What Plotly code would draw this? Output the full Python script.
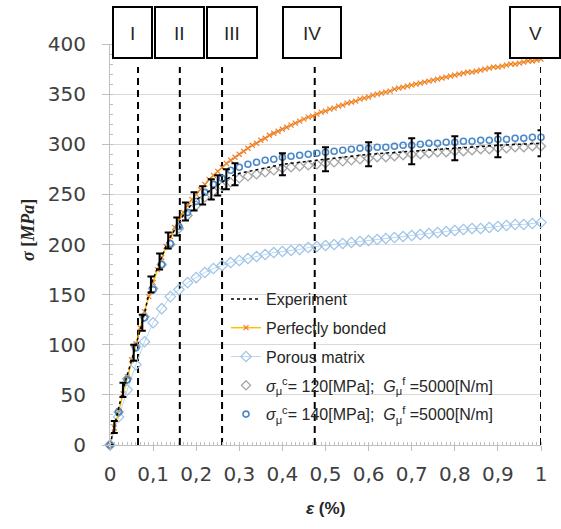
import plotly.graph_objects as go

# ---- data -------------------------------------------------------------
# Experimental mean curve with scatter
exp_strain = [0, 0.01, 0.03, 0.055, 0.075, 0.095, 0.115, 0.135, 0.155, 0.175, 0.195,
              0.215, 0.235, 0.25, 0.27, 0.29, 0.4, 0.5, 0.6, 0.7, 0.8, 0.9, 1.0]
exp_stress = [0, 18, 55, 92, 122, 160, 183, 204, 218, 233, 243,
              249, 255, 259, 265, 270, 280, 285, 290, 293, 296, 299, 301]
exp_err = [0, 6, 7, 8, 8, 8, 8, 8, 9, 9, 9,
           9, 10, 10, 10, 11, 11, 12, 12, 13, 12, 12, 13]

# Perfectly bonded model (0.01 strain step)
pb_strain = [i / 100 for i in range(101)]
pb_stress = [0, 17, 34, 51, 68, 85, 101, 117, 133, 148,
             162, 175, 187, 198, 208, 217, 225, 232, 239, 245,
             250, 255, 260, 265, 269, 273, 277, 281, 284, 287,
             290, 293, 296, 299, 301, 304, 306, 309, 311, 313,
             315, 317, 319, 321, 323, 325, 327, 328, 330, 332,
             333, 335, 336, 338, 339, 341, 342, 343, 345, 346,
             347, 349, 350, 351, 352, 353, 355, 356, 357, 358,
             359, 360, 361, 362, 363, 364, 365, 366, 367, 368,
             369, 370, 371, 372, 372, 373, 374, 375, 376, 377,
             377, 378, 379, 380, 380, 381, 382, 383, 383, 384,
             385]

# Models sampled at 0.02 strain step
model_strain = [i / 50 for i in range(51)]
porous_stress = [0, 28, 55, 80, 103, 122, 136, 148, 155, 162,
                 167, 172, 176, 179, 182, 184, 186, 188, 190, 192,
                 193, 194, 195, 197, 198, 199, 200, 201, 202, 203,
                 204, 205, 206, 207, 208, 209, 210, 211, 212, 213,
                 214, 215, 216, 216, 217, 218, 219, 220, 220, 221,
                 222]
s120_stress = [0, 33, 66, 98, 128, 156, 180, 200, 216, 229,
               239, 247, 253, 258, 262, 266, 268, 270, 272, 274,
               276, 277, 278, 279, 280, 281, 282, 283, 284, 285,
               286, 287, 287, 288, 289, 290, 290, 291, 292, 292,
               293, 293, 294, 295, 295, 296, 296, 297, 297, 298,
               298]
s140_stress = [0, 33, 65, 97, 127, 155, 180, 201, 218, 232,
               243, 252, 260, 266, 274, 277, 280, 282, 284, 285,
               287, 288, 289, 290, 291, 292, 293, 294, 295, 296,
               296, 297, 297, 298, 299, 299, 300, 301, 301, 302,
               302, 303, 303, 304, 304, 305, 305, 306, 306, 307,
               307]

# Stage boundaries (strain) and stage names
stage_strain = [0.065, 0.162, 0.26, 0.475, 1.0]
stage_top = 377
stage_names = ["I", "II", "III", "IV", "V"]
# Stage label boxes: left/right in pixels
stage_box_px = [(113, 152), (155, 204), (207, 257), (283, 341), (510, 560)]

# ---- figure -----------------------------------------------------------
W, H = 561, 529
ML, MR, MT, MB = 110, 20, 44, 84
PW, PH = W - ML - MR, H - MT - MB

fig = go.Figure()

# stage boundary lines
for i, xs in enumerate(stage_strain):
    fig.add_trace(go.Scatter(
        x=[xs, xs], y=[0, stage_top], mode="lines",
        line=dict(color="black", width=2, dash="7px,5px"),
        showlegend=False, hoverinfo="skip", cliponaxis=False))

fig.add_trace(go.Scatter(
    x=pb_strain, y=pb_stress, mode="lines+markers", name="Perfectly bonded",
    line=dict(color="#FFC000", width=1.5),
    marker=dict(symbol="x-thin-open", size=5, color="#ED7D31",
                line=dict(color="#ED7D31", width=1.2)),
    legendgroup="b", legendrank=2, cliponaxis=False))

fig.add_trace(go.Scatter(
    x=model_strain, y=porous_stress, mode="lines+markers", name="Porous matrix",
    line=dict(color="#BDD7EE", width=1),
    marker=dict(symbol="diamond-open", size=8, color="#9DC3E6",
                line=dict(color="#9DC3E6", width=1.2)),
    legendgroup="c", legendrank=3, cliponaxis=False))

fig.add_trace(go.Scatter(
    x=model_strain, y=s120_stress, mode="markers",
    name="<i>σ</i><sub>μ</sub><sup>c</sup>= 120[MPa];  <i>G</i><sub>μ</sub><sup>f</sup> =5000[N/m]",
    marker=dict(symbol="diamond-open", size=7, color="#A6A6A6",
                line=dict(color="#A6A6A6", width=1.3)),
    legendgroup="d", legendrank=4, cliponaxis=False))

fig.add_trace(go.Scatter(
    x=model_strain, y=s140_stress, mode="markers",
    name="<i>σ</i><sub>μ</sub><sup>c</sup>= 140[MPa];  <i>G</i><sub>μ</sub><sup>f</sup> =5000[N/m]",
    marker=dict(symbol="circle-open", size=6, color="#4A89C8",
                line=dict(color="#4A89C8", width=1.6)),
    legendgroup="e", legendrank=5, cliponaxis=False))

fig.add_trace(go.Scatter(
    x=exp_strain, y=exp_stress, mode="lines", name="Experiment",
    line=dict(color="black", width=1.5, dash="dot"),
    error_y=dict(type="data", array=exp_err, color="black", thickness=2, width=3.5),
    legendgroup="a", legendrank=1, cliponaxis=False))

shapes = []
annotations = []
for (x0, x1), name in zip(stage_box_px, stage_names):
    shapes.append(dict(type="rect", xref="paper", yref="paper",
                       x0=(x0 - ML) / PW, x1=(x1 - ML) / PW,
                       y0=(H - MB - 58) / PH, y1=(H - MB - 7) / PH,
                       line=dict(color="black", width=2), fillcolor="white", layer="above"))
    annotations.append(dict(xref="paper", yref="paper",
                            x=((x0 + x1) / 2 - ML) / PW, y=(H - MB - 33) / PH,
                            xanchor="center", yanchor="middle",
                            text=name, showarrow=False,
                            font=dict(size=19, color="#262626", family="Liberation Sans")))

# y-axis title
annotations.append(dict(xref="paper", yref="paper",
                        x=(28 - ML) / PW, y=(H - MB - 230) / PH,
                        xanchor="center", yanchor="middle",
                        text="<b><i>σ</i> [<i>MPa</i>]</b>", showarrow=False, textangle=-90,
                        font=dict(size=18, color="#262626", family="Liberation Serif")))
# x-axis title
annotations.append(dict(xref="paper", yref="paper",
                        x=(325 - ML) / PW, y=(H - MB - 508) / PH,
                        xanchor="center", yanchor="middle",
                        text="<b><i>ε</i> (%)</b>", showarrow=False,
                        font=dict(size=17, color="#262626", family="Liberation Sans")))

fig.update_layout(
    width=W, height=H,
    margin=dict(l=ML, r=MR, t=MT, b=MB),
    paper_bgcolor="white", plot_bgcolor="white",
    separators=", ",
    font=dict(family="Liberation Sans", color="#404040"),
    showlegend=True,
    legend=dict(x=(226 - ML) / PW, y=(H - MB - 282) / PH, xanchor="left", yanchor="top",
                bgcolor="rgba(0,0,0,0)", font=dict(size=16, color="#262626"),
                tracegroupgap=5, traceorder="grouped"),
    shapes=shapes, annotations=annotations,
)

fig.update_xaxes(range=[0, 1], tickvals=[i / 10 for i in range(11)],
                 showgrid=False, zeroline=False, showline=True, linecolor="#BFBFBF",
                 linewidth=1, ticks="outside", ticklen=5, tickcolor="#BFBFBF",
                 ticklabelstandoff=6,
                 minor=dict(dtick=0.01, ticks="inside", ticklen=3, tickcolor="#BFBFBF"),
                 tickfont=dict(size=20, color="#404040", family="DejaVu Sans"))
fig.update_yaxes(range=[0, 400], dtick=50,
                 showgrid=True, gridcolor="#D9D9D9", gridwidth=1,
                 zeroline=False, showline=True, linecolor="#BFBFBF", linewidth=1,
                 ticks="outside", ticklen=7, tickcolor="#BFBFBF",
                 ticklabelstandoff=12,
                 minor=dict(dtick=10, ticks="inside", ticklen=3, tickcolor="#BFBFBF"),
                 tickfont=dict(size=20, color="#404040", family="DejaVu Sans"))

fig.write_html("out.html")
